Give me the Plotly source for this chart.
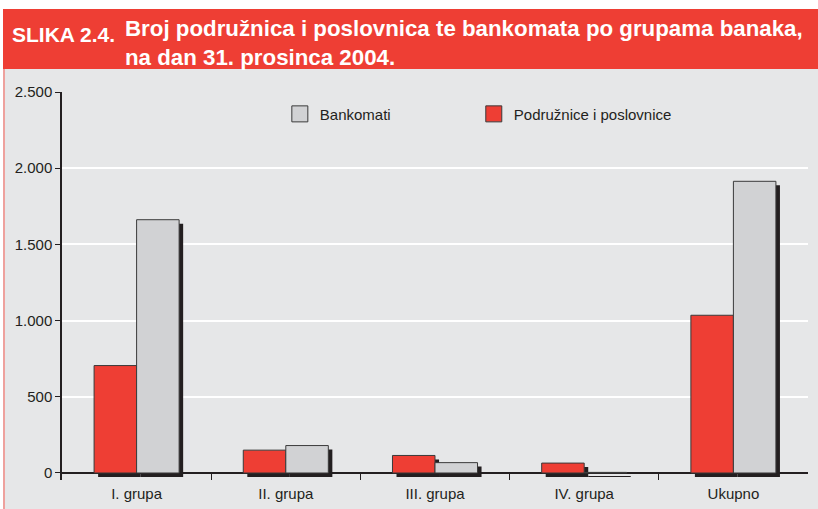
import plotly.graph_objects as go

categories = ["I. grupa", "II. grupa", "III. grupa", "IV. grupa", "Ukupno"]
podruznice = [705, 150, 115, 65, 1035]
bankomati = [1662, 180, 68, 4, 1914]
y_ticks = [0, 500, 1000, 1500, 2000, 2500]
y_tick_labels = ["0", "500", "1.000", "1.500", "2.000", "2.500"]

RED = "#ee3e34"
GREY = "#d1d2d4"
BG = "#e6e7e8"
SHADOW = "#231f20"
BAR_W = 0.285
SH_DX = 0.027
SH_DY = 26

fig = go.Figure()

# shadows
for vals, off in [(podruznice, -BAR_W), (bankomati, 0)]:
    fig.add_trace(go.Bar(
        x=categories, y=vals, base=[-SH_DY] * len(vals),
        offset=off + SH_DX, width=BAR_W,
        marker=dict(color=SHADOW, line=dict(width=0)),
        showlegend=False, hoverinfo="skip"))

fig.add_trace(go.Bar(
    x=categories, y=podruznice, offset=-BAR_W, width=BAR_W,
    marker=dict(color=RED, line=dict(color="#3a3a3a", width=1)),
    name="Podružnice i poslovnice", showlegend=False))
fig.add_trace(go.Bar(
    x=categories, y=bankomati, offset=0, width=BAR_W,
    marker=dict(color=GREY, line=dict(color="#3a3a3a", width=1)),
    name="Bankomati", showlegend=False))

# legend entries
for nm, col, lg in [("Bankomati", GREY, "legend"), ("Podružnice i poslovnice", RED, "legend2")]:
    fig.add_trace(go.Scatter(
        x=[None], y=[None], mode="markers", name=nm, legend=lg,
        marker=dict(symbol="square", size=20, color=col,
                    line=dict(color="#3a3a3a", width=1))))

legend_common = dict(orientation="h", xanchor="left", y=0.943, yanchor="middle",
                     bgcolor="rgba(0,0,0,0)", font=dict(size=15))

fig.update_layout(
    width=818, height=509,
    margin=dict(l=62, r=10, t=92, b=29),
    paper_bgcolor=BG, plot_bgcolor=BG,
    barmode="overlay",
    font=dict(family="Liberation Sans, Arial, sans-serif", size=15, color="#231f20"),
    showlegend=True,
    legend=dict(x=0.292, **legend_common),
    legend2=dict(x=0.552, **legend_common),
    xaxis=dict(type="category", range=[-0.5, 4.5], tickson="boundaries",
               ticks="inside", ticklen=7, tickcolor="#231f20", tickwidth=1,
               ticklabelstandoff=3,
               showgrid=False, showline=False, zeroline=False, fixedrange=True,
               automargin=False),
    yaxis=dict(range=[-46, 2500], tickvals=y_ticks, ticktext=y_tick_labels,
               ticks="outside", ticklen=5, tickcolor="#231f20",
               showline=True, linecolor="#231f20", linewidth=1.5,
               showgrid=True, gridcolor="white", gridwidth=1.5,
               zeroline=True, zerolinecolor="#231f20", zerolinewidth=1.5,
               automargin=False),
    shapes=[
        dict(type="rect", xref="paper", yref="paper", x0=-0.2, x1=1.1,
             y0=(480 - 9) / 388, y1=2,
             fillcolor="white", line=dict(width=0), layer="below"),
        dict(type="rect", xref="paper", yref="paper",
             x0=(3 - 62) / 746, x1=(818 - 62) / 746 + 0.01,
             y0=(480 - 69) / 388, y1=(480 - 9) / 388,
             fillcolor=RED, line=dict(width=0), layer="below"),
        dict(type="line", xref="paper", yref="paper",
             x0=(4 - 62) / 746, x1=(4 - 62) / 746,
             y0=-0.2, y1=(480 - 69) / 388,
             line=dict(color="#f08a84", width=1.5), layer="below"),
        dict(type="rect", xref="paper", yref="paper",
             x0=-0.2, x1=(3 - 62) / 746, y0=-0.2, y1=2,
             fillcolor="white", line=dict(width=0), layer="below"),
    ],
    annotations=[
        dict(xref="paper", yref="paper", x=(10 - 62) / 746, y=(480 - 34) / 388,
             xanchor="left", yanchor="middle", showarrow=False,
             text="<b>SLIKA 2.4.</b>",
             font=dict(family="Liberation Sans, Arial", size=21, color="white")),
        dict(xref="paper", yref="paper", x=(123 - 62) / 746, y=(480 - 43) / 388,
             xanchor="left", yanchor="middle", showarrow=False, align="left",
             text="<b>Broj podružnica i poslovnica te bankomata po grupama banaka,<br>na dan 31. prosinca 2004.</b>",
             font=dict(family="Liberation Sans, Arial", size=22.3, color="white")),
    ],
)

fig.write_html("out.html", config={"displayModeBar": False},
               post_script="document.body.style.margin='0';document.body.style.overflow='hidden';")
